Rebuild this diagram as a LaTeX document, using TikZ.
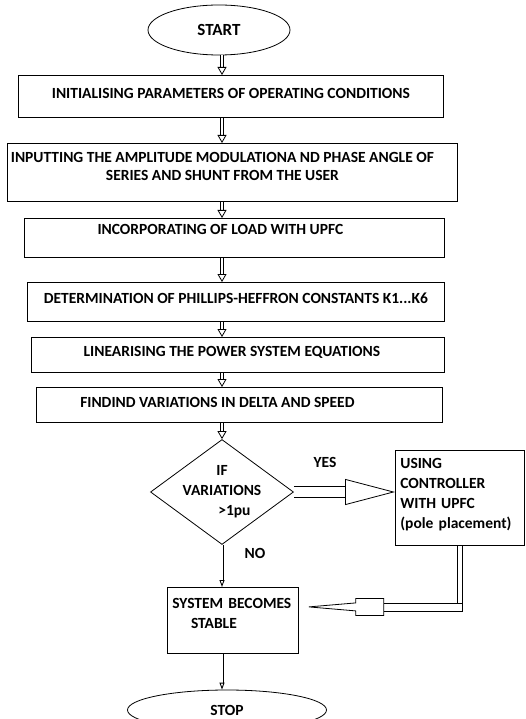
\documentclass[tikz,border=0pt]{standalone}
\usepackage{fontspec}
\setmainfont{Carlito}
\usetikzlibrary{positioning,shapes.geometric,arrows.meta}

\tikzset{
  stepbox/.style={draw, rectangle, line width=0.8pt, inner sep=0pt, anchor=north west,
    align=center, font=\bfseries\fontsize{15.5}{18}\selectfont},
  terminal/.style={draw, ellipse, line width=0.8pt, inner sep=0pt,
    font=\bfseries\fontsize{15.5}{18}\selectfont},
  decision/.style={draw, diamond, line width=0.8pt, inner sep=-8pt, align=center,
    minimum width=143pt, minimum height=105pt, font=\bfseries\fontsize{15.5}{20}\selectfont},
  hollow/.style={draw, line width=0.8pt, double, double distance=2.5pt,
    -{Triangle[open, length=8pt, width=9pt]}},
  thinhollow/.style={draw, line width=0.9pt, double, double distance=1.2pt,
    -{Triangle[open, length=7pt, width=5pt]}},
  bigarrow/.style={draw, line width=0.8pt, double, double distance=10pt,
    -{Triangle[open, length=50pt, width=26pt]}},
  longshaft/.style={draw, line width=0.8pt, double, double distance=4pt},
  longhead/.style={draw, line width=0.8pt, fill=white, line join=miter},
  answer/.style={font=\bfseries\fontsize{15.5}{18}\selectfont}
}

\begin{document}
\begin{tikzpicture}[x=1pt, y=-1pt]
    \useasboundingbox (0,0) rectangle (526,719);

    % Terminals and process boxes
    \node[terminal, minimum width=142pt, minimum height=50pt, font=\bfseries\fontsize{17}{18}\selectfont]
      (start) at (219,30) {START};
    \node[stepbox, minimum width=425pt, text height=23pt, text depth=19pt] (init) at (18,75)
      {INITIALISING PARAMETERS OF OPERATING CONDITIONS};
    \node[stepbox, minimum width=450pt, text height=37pt, text depth=21pt] (input) at (7,143)
      {INPUTTING THE AMPLITUDE MODULATIONA ND PHASE ANGLE OF\hspace*{20pt}\\SERIES AND SHUNT FROM THE USER\hspace*{20pt}};
    \node[stepbox, minimum width=420pt, text height=16pt, text depth=23pt] (load) at (24,218)
      {INCORPORATING OF LOAD WITH UPFC\hspace*{28pt}};
    \node[stepbox, minimum width=417pt, text height=21pt, text depth=18pt] (const) at (27,282)
      {DETERMINATION OF PHILLIPS-HEFFRON CONSTANTS K1...K6};
    \node[stepbox, minimum width=413pt, text height=19pt, text depth=16pt] (linear) at (31,337)
      {LINEARISING THE POWER SYSTEM EQUATIONS\hspace*{12pt}};
    \node[stepbox, minimum width=406pt, text height=20pt, text depth=15pt] (vary) at (36,387)
      {FINDIND VARIATIONS IN DELTA AND SPEED\hspace*{44pt}};

    % Decision and branches
    \node[decision] (dec) at (222,492) {IF\\VARIATIONS\\\hspace*{1.6em}>1pu};
    \node[stepbox, align=left, text width=119pt, inner xsep=5pt, text height=18pt, text depth=77pt,
      font=\bfseries\fontsize{15.5}{20}\selectfont] (ctrl) at (395,450)
      {USING\\CONTROLLER\\WITH UPFC\\(pole placement)};
    \node[stepbox, align=left, text width=121pt, inner xsep=5pt, text height=21pt, text depth=45pt,
      font=\bfseries\fontsize{15.5}{20}\selectfont] (sys) at (167,587)
      {SYSTEM BECOMES\\\hspace*{1.2em}STABLE};
    \node[terminal, minimum width=199pt, minimum height=40pt] (stop) at (227,710) {STOP};

    \node[answer] (yes) at (325,462) {YES};
    \node[answer] (no) at (255,553) {NO};

    % Connectors
    \coordinate (axis) at (222,0);
    \draw[hollow] (start.south -| axis) -- (init.north -| axis);
    \draw[hollow] (init.south -| axis) -- (input.north -| axis);
    \draw[hollow] (input.south -| axis) -- (load.north -| axis);
    \draw[hollow] (load.south -| axis) -- (const.north -| axis);
    \draw[hollow] (const.south -| axis) -- (linear.north -| axis);
    \draw[hollow] (linear.south -| axis) -- (vary.north -| axis);
    \draw[hollow] (vary.south -| axis) -- (dec.north);
    \draw[bigarrow] (dec.east) -- (dec.east -| ctrl.west);
    \draw[thinhollow] (dec.south) -- (dec.south |- sys.north);
    \draw[thinhollow] (sys.south -| axis) -- (stop.north -| axis);

    % Return path from the controller box
    \coordinate (tipend) at ([xshift=10pt, yshift=13.5pt]sys.east);
    \coordinate (bend) at (tipend -| ctrl.south);
    \coordinate (headbase) at ([xshift=75pt]tipend);
    \draw[longhead] ([yshift=4pt]headbase) rectangle ([xshift=2.4pt, yshift=-4pt]bend);
    \draw[longshaft] (ctrl.south) -- ([yshift=3.5pt]bend);
    \draw[longhead] (tipend) -- ++(47,-4) -- ++(0,-4.5) -- ++(28,0) -- ++(0,17)
      -- ++(-28,0) -- ++(0,-4.5) -- cycle;
\end{tikzpicture}
\end{document}
